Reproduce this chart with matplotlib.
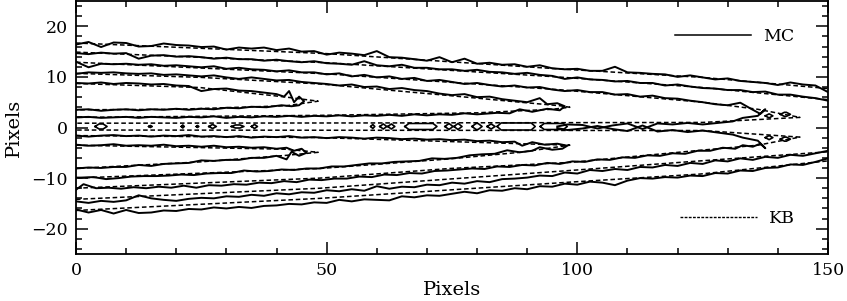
import numpy as np
import matplotlib
matplotlib.use("Agg")
import matplotlib.pyplot as plt
from matplotlib.lines import Line2D
from matplotlib.ticker import MultipleLocator

# ------------------------------
# DATA (x / y in pixels)
# ------------------------------
# MC contours (solid, noisy), digitised as (x, y) vertices
MC_U5 = [(0,16.4),(2.5,16.9),(5,15.9),(7.5,16.8),(10,16.7),(12.5,16.0),(15,16.1),(17.5,16.6),(20,16.3),(22.5,16.2),
         (25,15.9),(27.5,16.0),(30,15.4),(32.5,15.8),(35,15.6),(37.5,15.8),(40,15.3),(42.5,15.6),(45,15.0),(47.5,15.1),
         (50,14.4),(52.5,14.8),(55,14.6),(57.5,14.3),(60,15.1),(62.5,13.9),(65,13.8),(67.5,13.5),(70,13.2),(72.5,13.9),
         (75,12.9),(77.5,13.6),(80,12.6),(82.5,12.8),(85,12.4),(87.5,12.5),(90,12.0),(92.5,12.3),(95,11.7),(97.5,11.5),
         (100,11.6),(102.5,11.2),(105,11.2),(107.5,12.0),(110,10.9),(112.5,10.8),(115,10.6),(117.5,10.5),(120,10.0),
         (122.5,10.3),(125,9.9),(127.5,9.5),(130,9.7),(132.5,9.2),(135,9.0),(137.5,8.8),(140,8.4),(142.5,8.9),(145,8.5),
         (147.5,8.3),(150,7.0)]
MC_U4 = [(0,14.7),(2.5,14.5),(5,14.8),(7.5,14.6),(10,14.7),(12.5,13.6),(15,14.2),(17.5,14.3),(20,14.0),(22.5,14.1),
         (25,13.9),(27.5,13.6),(30,13.8),(32.5,13.5),(35,13.5),(37.5,13.2),(40,13.4),(42.5,13.1),(45,12.9),(47.5,13.1),
         (50,12.7),(52.5,12.6),(55,12.4),(57.5,13.1),(60,12.3),(62.5,12.1),(65,12.4),(67.5,11.8),(70,11.8),(72.5,11.5),
         (75,11.5),(77.5,11.2),(80,11.4),(82.5,11.0),(85,10.9),(87.5,10.6),(90,10.8),(92.5,10.4),(95,10.2),(97.5,9.6),
         (100,9.9),(102.5,9.5),(105,9.4),(107.5,9.1),(110,9.2),(112.5,8.8),(115,8.8),(117.5,8.3),(120,8.5),(122.5,8.1),
         (125,7.8),(127.5,7.7),(130,7.4),(132.5,7.4),(135,7.0),(137.5,7.1),(140,6.5),(142.5,6.5),(145,6.1),(147.5,5.8),
         (150,5.3)]
MC_U3 = [(0,13.0),(2.5,11.9),(5,12.6),(7.5,12.5),(10,12.6),(12.5,12.4),(15,12.5),(17.5,12.2),(20,12.3),(22.5,12.1),
         (25,11.9),(27.5,12.1),(30,11.6),(32.5,11.8),(35,11.5),(37.5,11.4),(40,11.1),(42.5,11.3),(45,10.9),(47.5,10.9),
         (50,10.5),(52.5,10.7),(55,10.1),(57.5,10.4),(60,9.9),(62.5,10.1),(65,9.6),(67.5,9.8),(70,9.2),(72.5,9.4),
         (75,9.0),(77.5,8.6),(80,8.8),(82.5,8.4),(85,8.1),(87.5,8.3),(90,7.9),(92.5,8.0),(95,7.5),(97.5,7.2),
         (100,7.4),(102.5,7.0),(105,7.0),(107.5,6.5),(110,6.6),(112.5,6.1),(115,6.3),(117.5,5.8),(120,5.7),(122.5,5.3),
         (125,5.0),(127.5,4.6),(130,4.4),(132.5,4.9),(135,3.5),(136.5,2.7),(137.5,3.6),(136,2.3),(133,1.9),(131,1.2),
         (128,0.9),(125,0.6),(122,0.9),(119,0.6),(116,0.8),(113,-0.3),(110,0.8),(107,0.4),(104,-0.2),(101,0.5),
         (98,0.6),(96,0.2)]
MC_U2 = [(0,10.6),(2.5,10.9),(5,10.8),(7.5,10.9),(10,10.7),(12.5,10.6),(15,10.7),(17.5,10.4),(20,10.5),(22.5,10.3),
         (25,10.1),(27.5,10.3),(30,9.9),(32.5,9.6),(35,9.9),(37.5,9.6),(40,9.3),(42.5,9.4),(45,9.0),(47.5,8.8),
         (50,8.6),(52.5,8.3),(55,8.5),(57.5,8.0),(60,8.1),(62.5,7.6),(65,7.8),(67.5,7.4),(70,7.2),(72.5,6.7),
         (75,6.4),(77.5,6.6),(80,6.0),(82.5,6.1),(85,5.6),(87.5,5.3),(90,5.0),(92.5,5.8),(94,4.6),(96,4.8),
         (97.5,4.2),(96.5,3.4),(94,3.7),(91,3.1),(88.5,3.6),(86.5,2.8),(84,2.9),(80,2.6),(77.5,2.8),(75,2.5),
         (72.5,2.6),(70,2.4),(67.5,2.6),(65,2.3),(62.5,2.5),(60,2.3),(57.5,2.4),(55,2.2),(52.5,2.4),(50,2.2),
         (47.5,2.3),(45,2.1),(42.5,2.3),(40,2.1),(37.5,2.2),(35,2.0),(32.5,2.1),(30,1.9),(27.5,2.2),(25,2.0),
         (22.5,2.1),(20,1.9),(17.5,2.0),(15,2.1),(12.5,1.9),(10,2.1),(7.5,2.0),(5,1.9),(2.5,2.1),(0,2.0)]
MC_U1 = [(0,8.8),(2.5,8.7),(5,8.9),(7.5,8.6),(10,8.8),(12.5,8.7),(15,8.5),(17.5,8.6),(20,8.3),(22.5,8.2),
         (25,7.2),(27.5,7.6),(30,7.7),(32.5,7.3),(35,7.2),(37.5,6.9),(40,6.6),(41.5,6.1),(42.5,7.2),(43.5,5.0),
         (44.5,6.1),(45.5,5.2),(44.5,4.4),(43,4.2),(41,4.4),(38,4.0),(35,4.1),(32.5,3.8),(30,3.9),(27.5,3.6),
         (25,3.7),(22.5,3.5),(20,3.7),(17.5,3.5),(15,3.6),(12.5,3.4),(10,3.6),(7.5,3.5),(5,3.3),(2.5,3.6),(0,3.5)]
MC_L1 = [(0,-3.4),(2.5,-3.6),(5,-3.5),(7.5,-3.3),(10,-3.6),(12.5,-3.5),(15,-3.6),(17.5,-3.4),(20,-3.7),(22.5,-3.6),
         (25,-3.8),(27.5,-3.6),(30,-3.9),(32.5,-3.8),(35,-4.0),(37.5,-3.9),(40,-4.2),(42,-4.0),(43.5,-4.6),(45,-4.2),
         (46,-5.0),(44.5,-5.6),(43,-4.8),(42,-6.3),(40,-5.6),(37.5,-6.0),(35,-6.0),(32.5,-6.4),(30,-6.4),(27.5,-6.6),
         (25,-6.5),(22.5,-7.0),(20,-7.1),(17.5,-7.2),(15,-7.6),(12.5,-7.4),(10,-7.8),(7.5,-7.8),(5,-8.0),(2.5,-7.9),
         (0,-8.1)]
MC_L2 = [(0,-1.6),(2.5,-1.8),(5,-1.6),(7.5,-1.5),(10,-1.7),(12.5,-1.6),(15,-1.8),(17.5,-1.6),(20,-1.7),(22.5,-1.5),
         (25,-1.8),(27.5,-1.7),(30,-1.9),(32.5,-1.7),(35,-2.0),(37.5,-1.8),(40,-1.9),(42.5,-1.7),(45,-2.0),(47.5,-1.9),
         (50,-2.1),(52.5,-1.9),(55,-2.0),(57.5,-2.2),(60,-2.0),(62.5,-2.1),(65,-2.3),(67.5,-2.2),(70,-2.4),(72.5,-2.3),
         (75,-2.5),(77.5,-2.4),(80,-2.7),(82.5,-2.6),(85,-2.9),(87.5,-2.8),(89,-3.6),(91,-2.9),(93.5,-3.4),(96,-3.2),
         (98,-3.6),(97,-4.2),(95,-4.4),(92.5,-3.9),(91,-4.6),(88.5,-4.9),(86,-4.5),(83.5,-5.2),(81,-5.3),(78.5,-5.5),
         (76,-6.0),(73.5,-6.2),(71,-6.1),(68.5,-6.6),(66,-6.7),(63.5,-6.8),(61,-7.1),(58.5,-7.1),(56,-7.4),(53.5,-7.7),
         (51,-7.7),(48.5,-8.1),(46,-8.1),(43.5,-8.4),(41,-8.3),(38.5,-8.6),(36,-8.7),(33.5,-8.5),(31,-9.0),(28.5,-9.0),
         (26,-9.1),(23.5,-9.4),(21,-9.3),(18.5,-9.5),(16,-9.6),(13.5,-9.6),(11,-9.7),(8.5,-10.0),(6,-10.2),(3.5,-9.8),
         (1,-9.9),(0,-9.9)]
MC_L3 = [(0,-12.3),(1.5,-11.2),(4,-12.0),(6.5,-11.9),(9,-12.1),(11.5,-11.8),(14,-12.0),(16.5,-11.7),(19,-11.9),(21.5,-11.5),
         (24,-11.9),(26.5,-11.4),(29,-11.5),(31.5,-11.2),(34,-11.3),(36.5,-10.9),(39,-11.0),(41.5,-10.6),(44,-10.8),(46.5,-10.3),
         (49,-10.4),(51.5,-10.1),(54,-10.1),(56.5,-9.7),(59,-9.8),(61.5,-9.3),(64,-9.4),(66.5,-9.0),(69,-9.1),(71.5,-8.6),
         (74,-8.5),(76.5,-8.3),(79,-8.1),(81.5,-8.2),(84,-7.7),(86.5,-7.8),(89,-7.4),(91.5,-7.5),(94,-7.0),(96.5,-7.2),
         (99,-6.7),(101.5,-6.8),(104,-6.3),(106.5,-6.4),(109,-5.9),(111.5,-6.0),(114,-5.5),(116.5,-5.6),(119,-5.1),(121.5,-5.2),
         (124,-4.6),(126.5,-4.6),(129,-4.0),(131.5,-4.2),(133,-3.5),(135,-3.8),(136.5,-3.2),(137.5,-4.1),(136,-2.6),(133,-2.0),
         (131,-1.4),(128,-1.0),(125,-0.6),(122,-0.9),(119,-0.5),(116,-0.8),(113,0.4),(110,-0.7),(107,-0.3),(104,0.3),
         (101,-0.2),(98,-0.5),(96,-0.1)]
MC_L4 = [(0,-14.6),(2.5,-14.9),(5,-14.5),(7.5,-14.7),(10,-14.4),(12.5,-13.4),(15,-14.0),(17.5,-14.3),(20,-14.5),(22.5,-14.1),
         (25,-13.9),(27.5,-14.0),(30,-13.6),(32.5,-13.7),(35,-13.3),(37.5,-13.5),(40,-13.0),(42.5,-13.2),(45,-12.8),(47.5,-12.9),
         (50,-12.4),(52.5,-12.6),(55,-12.2),(57.5,-12.5),(60,-11.6),(62.5,-12.1),(65,-11.7),(67.5,-11.8),(70,-11.3),(72.5,-11.4),
         (75,-10.9),(77.5,-11.1),(80,-10.6),(82.5,-10.8),(85,-10.2),(87.5,-10.1),(90,-9.9),(92.5,-9.5),(95,-9.6),(97.5,-8.9),
         (100,-9.1),(102.5,-8.4),(105,-8.6),(107.5,-8.2),(110,-8.4),(112.5,-7.8),(115,-7.9),(117.5,-7.4),(120,-7.6),(122.5,-7.0),
         (125,-7.2),(127.5,-6.5),(130,-6.7),(132.5,-6.1),(135,-6.4),(137.5,-5.8),(140,-6.0),(142.5,-5.4),(145,-5.6),(147.5,-5.1),
         (150,-4.6)]
MC_L5 = [(0,-16.2),(2.5,-16.8),(5,-16.3),(7.5,-17.0),(10,-16.3),(12.5,-16.9),(15,-16.8),(17.5,-16.4),(20,-16.5),(22.5,-16.1),
         (25,-16.2),(27.5,-15.8),(30,-16.0),(32.5,-15.7),(35,-15.9),(37.5,-15.5),(40,-15.4),(42.5,-15.1),(45,-15.2),(47.5,-14.8),
         (50,-14.9),(52.5,-14.3),(55,-14.6),(57.5,-14.2),(60,-14.3),(62.5,-14.4),(65,-13.6),(67.5,-13.8),(70,-13.4),(72.5,-13.5),
         (75,-13.1),(77.5,-12.7),(80,-13.0),(82.5,-12.4),(85,-12.5),(87.5,-12.0),(90,-12.2),(92.5,-11.6),(95,-11.7),(97.5,-11.1),
         (100,-11.3),(102.5,-10.7),(105,-10.9),(107.5,-11.4),(110,-10.5),(112.5,-10.0),(115,-10.1),(117.5,-9.8),(120,-9.9),(122.5,-9.5),
         (125,-9.6),(127.5,-9.0),(130,-9.1),(132.5,-8.5),(135,-8.6),(137.5,-8.0),(140,-7.9),(142.5,-7.3),(145,-7.4),(147.5,-6.8),
         (150,-6.1)]

# KB contours (dashed, smooth)
KB_U5 = [(0,16.7),(50,14.6),(96,11.6),(125,9.9),(150,7.7)]
KB_U4 = [(0,14.9),(50,12.8),(96,10.0),(125,7.9),(150,5.5)]
KB_U3 = [(0,12.9),(50,10.6),(96,7.5),(125,5.0),(136,3.6),(144.4,2.0),(125,1.0),(60,0.9),(0,0.85)]
KB_U2 = [(0,10.7),(25,9.9),(48.7,8.6),(74.6,6.3),(88.6,5.0),(96.5,4.3),(98.5,4.0),(95,3.6),(80,2.9),(48.7,2.4),(0,2.0)]
KB_U1 = [(0,8.7),(24.7,7.9),(42,6.0),(48.3,5.2),(42,4.3),(20,3.6),(0,3.5)]
KB_L1 = [(0,-3.5),(42,-4.3),(48.3,-4.9),(42,-5.5),(24.7,-6.8),(0,-8.1)]
KB_L2 = [(0,-1.6),(48.7,-2.0),(88.6,-3.2),(98.5,-3.5),(88.6,-4.9),(74.6,-6.2),(48.7,-8.1),(0,-10.0)]
KB_L3 = [(0,-12.0),(48.7,-10.0),(74.6,-8.1),(98.5,-6.9),(124.5,-4.5),(136,-3.5),(144.4,-1.9),(125,-0.6),(60,-0.55),(0,-0.5)]
KB_L4 = [(0,-14.2),(48.7,-12.0),(98.5,-8.5),(124.5,-6.6),(150,-4.8)]
KB_L5 = [(0,-16.4),(48.7,-14.0),(98.5,-10.8),(124.5,-9.2),(150,-6.6)]

# small MC islands along the valley (left x, right x, centre y, half height)
ISL_X0 = [3.8, 14.5, 21.0, 24.0, 26.5, 31.0, 35.0, 58.8, 60.6, 62.2, 65.6, 73.6, 75.4, 79.0, 82.0, 84.0, 92.6, 137.5, 140.5, 137.5, 140.5]
ISL_X1 = [6.2, 15.2, 21.6, 24.5, 28.0, 33.5, 36.2, 59.6, 62.0, 63.6, 72.0, 75.2, 77.0, 81.0, 83.6, 91.6, 98.0, 139.0, 142.5, 139.0, 142.5]
ISL_Y  = [0.2, 0.2, 0.2, 0.2, 0.2, 0.2, 0.2, 0.2, 0.2, 0.2, 0.2, 0.2, 0.2, 0.2, 0.2, 0.2, 0.2, 2.3, 2.6, -2.0, -2.3]
ISL_H  = [0.5, 0.2, 0.3, 0.2, 0.4, 0.3, 0.4, 0.4, 0.5, 0.5, 0.6, 0.6, 0.6, 0.6, 0.5, 0.7, 0.6, 0.4, 0.4, 0.4, 0.4]

MC_LINES = [MC_U5, MC_U4, MC_U3, MC_U2, MC_U1, MC_L1, MC_L2, MC_L3, MC_L4, MC_L5]
KB_LINES = [KB_U5, KB_U4, KB_U3, KB_U2, KB_U1, KB_L1, KB_L2, KB_L3, KB_L4, KB_L5]

# ------------------------------
# PLOT
# ------------------------------
plt.rcParams['font.family'] = ['DejaVu Serif']

fig = plt.figure(figsize=(8.47, 3.01), dpi=100)
ax = fig.add_axes([76 / 847, 1 - 254 / 301, 752 / 847, 253 / 301])

for line in MC_LINES:
    xs, ys = zip(*line)
    ax.plot(xs, ys, color='k', lw=1.4, solid_joinstyle='round')

for line in KB_LINES:
    xs, ys = zip(*line)
    ax.plot(xs, ys, color='k', lw=1.1, ls=(0, (3, 1.8)))

for x0, x1, yc, h in zip(ISL_X0, ISL_X1, ISL_Y, ISL_H):
    w = x1 - x0
    c = min(0.8, w / 2)
    ax.plot([x0, x0 + c, x1 - c, x1, x1 - c, x0 + c, x0],
            [yc, yc + h, yc + h, yc, yc - h, yc - h, yc], color='k', lw=1.2)

ax.set_xlim(0, 150)
ax.set_ylim(-25, 25)
ax.xaxis.set_major_locator(MultipleLocator(50))
ax.xaxis.set_minor_locator(MultipleLocator(10))
ax.yaxis.set_major_locator(MultipleLocator(10))
ax.yaxis.set_minor_locator(MultipleLocator(2))
ax.tick_params(which='both', direction='in', top=True, right=True, width=1.1, labelsize=12.5)
ax.tick_params(which='major', length=8.6, pad=6)
ax.tick_params(which='minor', length=4.3)
for s in ax.spines.values():
    s.set_linewidth(1.3)

ax.set_xlabel("Pixels", fontsize=14, labelpad=1)
ax.set_ylabel("Pixels", fontsize=14, labelpad=6)

leg1 = ax.legend(handles=[Line2D([], [], color='k', lw=1.1)], labels=['MC'], loc='upper right',
                 bbox_to_anchor=(0.965, 0.92), frameon=False, handlelength=4.4, handletextpad=0.7,
                 borderaxespad=0, fontsize=12.5)
ax.add_artist(leg1)
ax.legend(handles=[Line2D([], [], color='k', lw=1.0, ls=(0, (2, 1)))], labels=['KB'], loc='lower right',
          bbox_to_anchor=(0.965, 0.08), frameon=False, handlelength=4.4, handletextpad=0.7,
          borderaxespad=0, fontsize=12.5)

fig.savefig("out.png", dpi=100)
